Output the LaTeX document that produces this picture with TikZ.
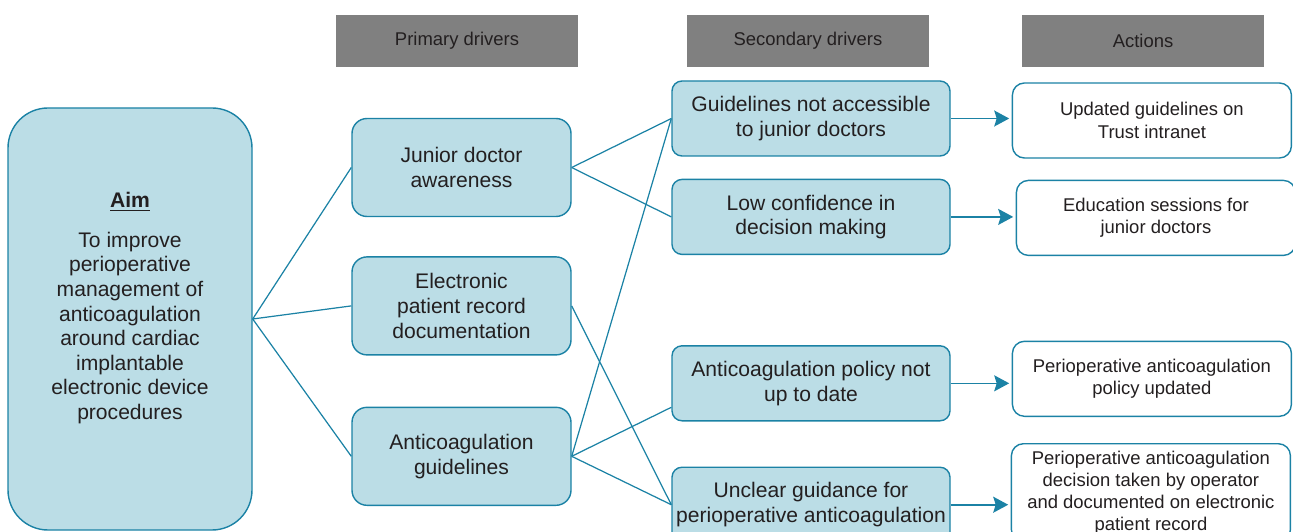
\documentclass[tikz,border=0pt]{standalone}
\usepackage{fontspec}
\setmainfont{Liberation Sans}
\usetikzlibrary{arrows.meta,positioning}
\definecolor{boxfill}{HTML}{BBDDE6}
\definecolor{boxline}{HTML}{1B82A5}
\definecolor{headfill}{HTML}{808080}
\definecolor{ink}{HTML}{231F20}
\tikzset{
  font=\fontsize{12}{14}\selectfont,
  head/.style={
    fill=headfill,
    text=ink,
    minimum width=48.4mm,
    minimum height=10.4mm,
    font=\fontsize{10.5}{12.5}\selectfont
  },
  aimbox/.style={
    draw=boxline,
    fill=boxfill,
    line width=0.8pt,
    rounded corners=8mm,
    minimum width=48.8mm,
    minimum height=84.4mm
  },
  primary/.style={
    draw=boxline,
    fill=boxfill,
    line width=0.8pt,
    rounded corners=3mm,
    align=center,
    text=ink,
    minimum width=43.8mm,
    minimum height=19.6mm
  },
  secondary/.style={
    draw=boxline,
    fill=boxfill,
    line width=0.8pt,
    rounded corners=2mm,
    align=center,
    text=ink,
    inner xsep=1pt,
    minimum width=55.6mm,
    minimum height=15mm
  },
  action/.style={
    draw=boxline,
    fill=white,
    line width=0.8pt,
    rounded corners=2.4mm,
    align=center,
    text=ink,
    inner xsep=2pt,
    minimum width=55.8mm,
    minimum height=15mm,
    font=\fontsize{10.5}{12.7}\selectfont
  },
  link/.style={draw=boxline, line width=0.7pt},
  arrow/.style={link, line width=0.9pt, -{Stealth[length=3mm,width=3.2mm,inset=0.5mm]}}
}
\begin{document}
\begin{tikzpicture}
\useasboundingbox (0,0) rectangle (25.86,10.62);

% Column headers
\node[head] (hprim) at (9.14,9.80) {Primary drivers};
\node[head] (hsec) at (16.16,9.80) {Secondary drivers};
\node[head] (hact) at (22.86,9.80) {Actions};

% Aim
\node[aimbox] (aim) at (2.60,4.24) {};
\node[align=center, text=ink] (aimtext) at ([yshift=2.2mm]aim.center) {\underline{\textbf{Aim}}\\[8.7pt]
To improve\\perioperative\\management of\\anticoagulation\\around cardiac\\implantable\\electronic device\\procedures};

% Primary drivers
\node[primary] (junior) at (9.23,7.27) {Junior doctor\\awareness};
\node[primary, below=7.8mm of junior] (record) {Electronic\\patient record\\documentation};
\node[primary, below=10.2mm of record] (guideln) {Anticoagulation\\guidelines};

% Secondary drivers
\node[secondary] (access) at (16.22,8.25) {Guidelines not accessible\\to junior doctors};
\node[secondary, below=4.4mm of access] (confid) {Low confidence in\\decision making};
\node[secondary, below=18mm of confid] (policy) {Anticoagulation policy not\\up to date};
\node[secondary, below=9mm of policy] (unclear) {Unclear guidance for\\perioperative anticoagulation};

% Actions
\node[action, right=12.2mm of access, yshift=-0.4mm] (intranet) {Updated guidelines on\\Trust intranet};
\node[action, right=13mm of confid, yshift=-0.2mm] (teach) {Education sessions for\\junior doctors};
\node[action, right=12.2mm of policy, yshift=0.9mm] (newpolicy) {Perioperative anticoagulation\\policy updated};
\node[action, right=12mm of unclear, yshift=2.4mm, minimum height=19.6mm] (decision) {Perioperative anticoagulation\\decision taken by operator\\and documented on electronic\\patient record};

% Aim to primary drivers
\draw[link] (aim.east) -- (junior.west);
\draw[link] (aim.east) -- (record.west);
\draw[link] (aim.east) -- (guideln.west);

% Primary to secondary drivers
\draw[link] (junior.east) -- (access.west);
\draw[link] (junior.east) -- (confid.west);
\draw[link] (record.east) -- (unclear.west);
\draw[link] (guideln.east) -- (access.west);
\draw[link] (guideln.east) -- ([yshift=-4.8mm]policy.west);
\draw[link] (guideln.east) -- (unclear.west);

% Secondary drivers to actions
\draw[arrow] (access.east) -- ([xshift=-0.5mm]access.east -| intranet.west);
\draw[arrow] (confid.east) -- ([xshift=-0.5mm]confid.east -| teach.west);
\draw[arrow] (policy.east) -- ([xshift=-0.5mm]policy.east -| newpolicy.west);
\draw[arrow] (unclear.east) -- ([xshift=-0.5mm]unclear.east -| decision.west);

\end{tikzpicture}
\end{document}
